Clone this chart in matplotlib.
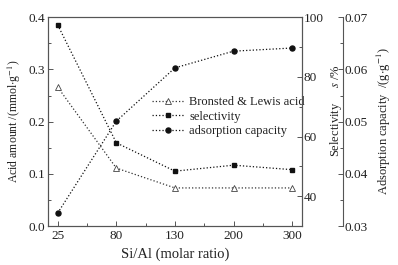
import matplotlib
matplotlib.use('Agg')
import matplotlib.pyplot as plt
from matplotlib.ticker import MultipleLocator, FormatStrFormatter

plt.rcParams['font.family'] = ['Liberation Serif', 'DejaVu Serif']
plt.rcParams['mathtext.fontset'] = 'stix'

# Data
si_al = ['25', '80', '130', '200', '300']
acid_amount = [0.266, 0.111, 0.073, 0.073, 0.073]
selectivity = [97.4, 57.9, 48.4, 50.4, 48.9]
adsorption = [0.0325, 0.0501, 0.0603, 0.0635, 0.0641]

txt = '#222222'
spine = '#555555'
fs = 9.5

fig = plt.figure(figsize=(3.98, 2.65), dpi=100)
ax = fig.add_axes([0.12, 0.147, 0.639, 0.788])
ax2 = ax.twinx()
ax3 = ax.twinx()
ax3.spines['right'].set_position(('axes', 1.162))

x = list(range(len(si_al)))

l1, = ax.plot(x, acid_amount, linestyle=':', color='#333333', lw=0.9,
              marker='^', markersize=4, markerfacecolor='white',
              markeredgecolor='#444444', markeredgewidth=0.6)
l2, = ax2.plot(x, selectivity, linestyle=':', color='#111111', lw=0.9,
               marker='s', markersize=3.4)
l3, = ax3.plot(x, adsorption, linestyle=':', color='#111111', lw=0.9,
               marker='o', markersize=3.6)

ax.set_xlim(-0.17, 4.17)
ax.set_ylim(0, 0.4)
ax2.set_ylim(30, 100)
ax3.set_ylim(0.03, 0.07)

ax.set_xticks(x)
ax.set_xticklabels(si_al)
ax.xaxis.set_minor_locator(MultipleLocator(0.5))
ax.yaxis.set_major_locator(MultipleLocator(0.1))
ax.yaxis.set_minor_locator(MultipleLocator(0.05))
ax.yaxis.set_major_formatter(FormatStrFormatter('%.1f'))
ax2.set_yticks([40, 60, 80, 100])
ax2.yaxis.set_minor_locator(MultipleLocator(10))
ax3.set_yticks([0.03, 0.04, 0.05, 0.06, 0.07])
ax3.yaxis.set_minor_locator(MultipleLocator(0.005))
ax3.yaxis.set_major_formatter(FormatStrFormatter('%.2f'))

for a in (ax, ax2, ax3):
    for s in a.spines.values():
        s.set_color(spine)
        s.set_linewidth(0.8)
    a.tick_params(which='both', direction='in', colors=spine, labelcolor=txt,
                  labelsize=fs, width=0.7)
    a.tick_params(which='major', length=3.5)
    a.tick_params(which='minor', length=2)
ax.tick_params(axis='x', which='both', top=False)
ax.tick_params(axis='x', pad=3)
ax.tick_params(axis='y', pad=2)
ax2.tick_params(axis='y', pad=1)
ax3.tick_params(axis='y', pad=1)
ax3.spines['left'].set_visible(False)
ax3.spines['top'].set_visible(False)
ax3.spines['bottom'].set_visible(False)

ax.set_xlabel('Si/Al (molar ratio)', fontsize=10.5, color=txt, labelpad=4)
ax.set_ylabel(r'Acid amount /(mmol$\cdot$g$^{-1}$)', fontsize=8.5,
              color=txt, labelpad=4)
ax2.set_ylabel(r'Selectivity     $s$ /%', fontsize=9, color=txt,
               labelpad=-3)
ax2.yaxis.set_label_coords(1.1, 0.55)
ax3.set_ylabel(r'Adsorption capacity  /(g$\cdot$g$^{-1}$)', fontsize=9,
               color=txt, labelpad=5)

ax.legend([l1, l2, l3],
          ['Bronsted & Lewis acid', 'selectivity', 'adsorption capacity'],
          loc='upper left', bbox_to_anchor=(0.39, 0.645), frameon=False,
          fontsize=9, handlelength=2.6, handletextpad=0.4,
          labelspacing=0.2, borderaxespad=0, labelcolor=txt)

fig.savefig('out.png', dpi=100)
